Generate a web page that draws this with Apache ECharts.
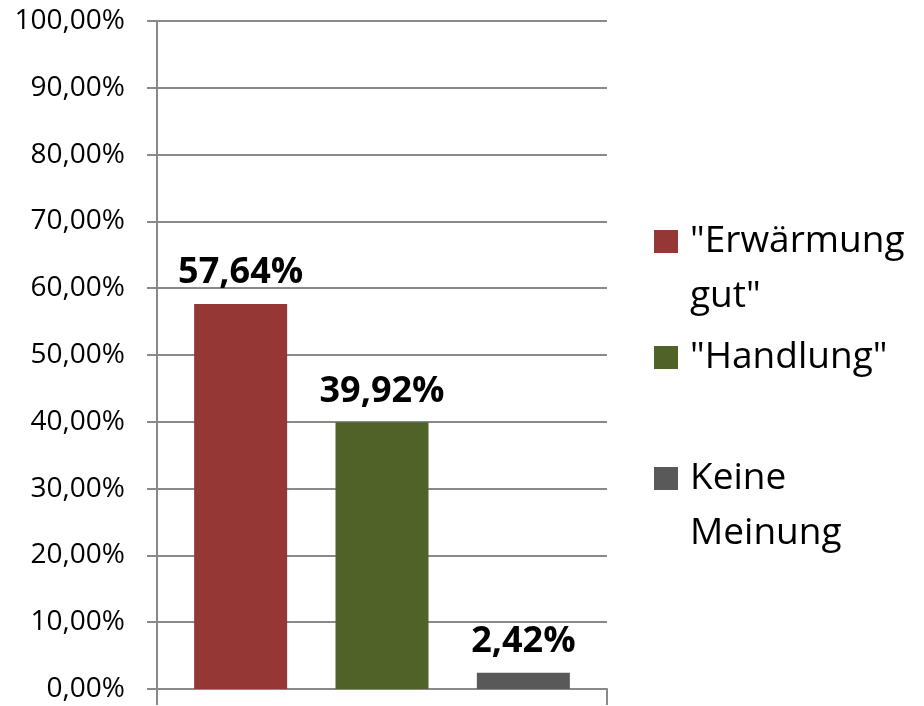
<!DOCTYPE html>
<html>
<head>
<meta charset="utf-8">
<script src="https://cdn.jsdelivr.net/npm/echarts@6/dist/echarts.min.js"></script>
<style>
  html, body { margin: 0; padding: 0; background: #fff; }
  #main { width: 924px; height: 706px; }
</style>
</head>
<body>
<div id="main"></div>
<script>
var seriesNames = ['"Erwärmung gut"', '"Handlung"', 'Keine Meinung'];
var legendLines = [['"Erwärmung', 'gut"'], ['"Handlung"'], ['Keine', 'Meinung']];
var seriesValues = [57.64, 39.92, 2.42];
var seriesColors = ['#953735', '#4F6228', '#595959'];
var yTicks = [0, 10, 20, 30, 40, 50, 60, 70, 80, 90, 100];

var fontFam = 'Open Sans';
var lineH = 55;

// Prozent mit Komma
function fmtPct(v, d) {
  return v.toFixed(d).replace('.', ',') + '%';
}

var chartDom = document.getElementById('main');
var myChart = echarts.init(chartDom);

// Legende: Symbol auf Höhe der ersten Zeile
var legendTops = [168, 339, 405];
var legends = seriesNames.map(function (name, i) {
  var lines = legendLines[i];
  var txt = lines.map(function (l) { return '{t|' + l + '}'; }).join('\n');
  if (lines.length > 1) txt = '{p|\u00a0}\n' + txt;
  return {
    show: true,
    left: 654,
    top: legendTops[i],
    orient: 'vertical',
    padding: 0,
    icon: 'rect',
    itemWidth: 24,
    itemHeight: 23,
    selectedMode: false,
    data: [{ name: name }],
    formatter: function () { return txt; },
    textStyle: {
      padding: [0, 0, 0, 7],
      rich: {
        t: { fontFamily: fontFam, fontSize: 37, lineHeight: lineH, color: '#000' },
        p: { fontFamily: fontFam, fontSize: 37, lineHeight: lineH }
      }
    }
  };
});

var series = seriesNames.map(function (name, i) {
  return {
    name: name,
    type: 'bar',
    data: [seriesValues[i]],
    barWidth: 93,
    barGap: '52%',
    itemStyle: { color: seriesColors[i] },
    label: {
      show: true,
      position: 'top',
      distance: 13,
      fontFamily: fontFam,
      fontWeight: 'bold',
      fontSize: 36,
      color: '#000',
      formatter: function (p) { return fmtPct(p.value, 2); }
    }
  };
});

var option = {
  animation: false,
  color: seriesColors,
  grid: { left: 157, right: 317, top: 21, bottom: 17, containLabel: false },
  legend: legends,
  xAxis: {
    type: 'category',
    data: [''],
    axisLine: { lineStyle: { color: '#898989', width: 2 } },
    axisTick: { show: true, length: 16, lineStyle: { color: '#898989', width: 2 } },
    axisLabel: { show: false }
  },
  yAxis: {
    type: 'value',
    min: yTicks[0],
    max: yTicks[yTicks.length - 1],
    interval: 10,
    axisLine: { show: true, lineStyle: { color: '#898989', width: 2 } },
    axisTick: { show: true, length: 10, lineStyle: { color: '#898989', width: 2 } },
    splitLine: { show: true, lineStyle: { color: '#898989', width: 2 } },
    axisLabel: {
      margin: 32,
      fontFamily: fontFam,
      fontSize: 28,
      color: '#000',
      formatter: function (v) { return fmtPct(v, 2); }
    }
  },
  series: series
};

option && myChart.setOption(option);
</script>
</body>
</html>
